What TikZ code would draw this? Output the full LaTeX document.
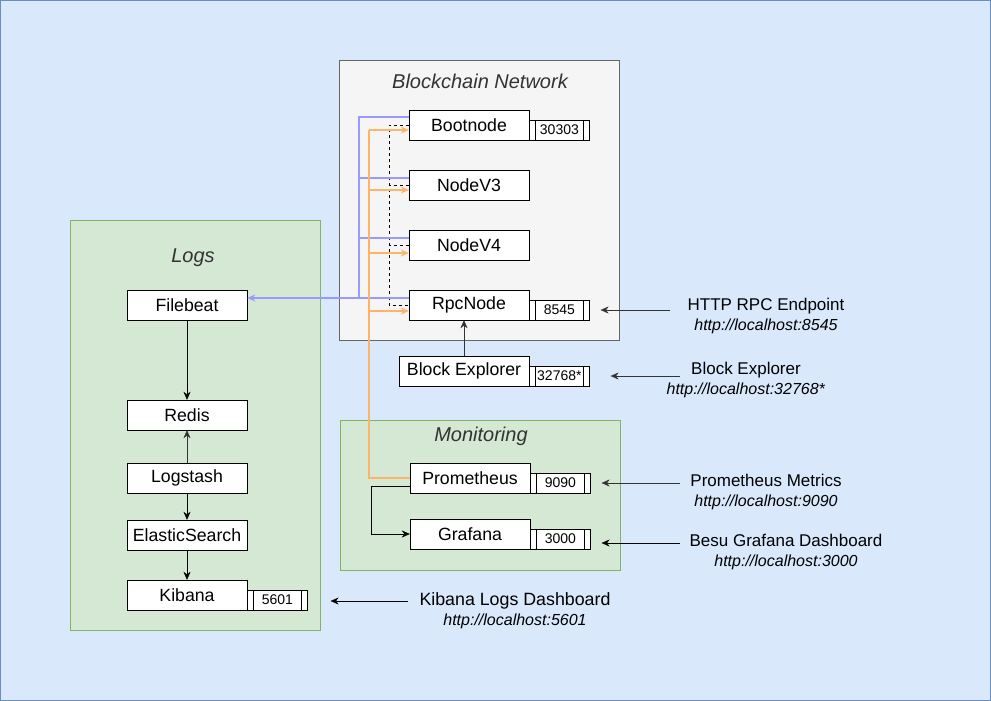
\documentclass[tikz,border=0pt]{standalone}
\usepackage{fontspec}
\setmainfont{Liberation Sans}
\usetikzlibrary{positioning,arrows.meta}

\definecolor{bgfill}{HTML}{DAE8FC}
\definecolor{bgline}{HTML}{6C8EBF}
\definecolor{netfill}{HTML}{F5F5F5}
\definecolor{netline}{HTML}{666666}
\definecolor{grpfill}{HTML}{D5E8D4}
\definecolor{grpline}{HTML}{82B366}
\definecolor{metrics}{HTML}{FFB366}
\definecolor{logline}{HTML}{9999FF}
\definecolor{txtgray}{HTML}{333333}

\begin{document}
\begin{tikzpicture}[x=1pt,y=-1pt,>={Stealth[length=8pt,width=7pt]},
	box/.style={draw,fill=white,minimum width=120pt,minimum height=30pt,inner sep=0pt,font=\fontsize{17.7}{20}\selectfont},
	port/.style={draw,fill=white,minimum width=60pt,minimum height=20pt,inner sep=0pt,font=\fontsize{14}{16}\selectfont,anchor=south west,
		path picture={\draw ([xshift=6pt]path picture bounding box.south west) -- ([xshift=6pt]path picture bounding box.north west);
			\draw ([xshift=-6pt]path picture bounding box.south east) -- ([xshift=-6pt]path picture bounding box.north east);}},
	title/.style={font=\fontsize{20}{24}\selectfont\itshape,text=txtgray},
	info/.style={align=center,font=\fontsize{17}{20}\selectfont},
	metricline/.style={draw=metrics,line width=1.3pt},
	logsline/.style={draw=logline,line width=1.3pt},
	peerline/.style={dash pattern=on 3pt off 3pt,line width=0.8pt},
	]
	\useasboundingbox (0,0) rectangle (991,701);
	\draw[fill=bgfill,draw=bgline] (0.5,0.5) rectangle (990.5,700.5);

	% groups
	\draw[fill=netfill,draw=netline] (339.5,60.5) rectangle (619.5,340.5);
	\draw[fill=grpfill,draw=grpline] (70.5,220.5) rectangle (320.5,630.5);
	\draw[fill=grpfill,draw=grpline] (340.5,420.5) rectangle (620.5,570.5);
	\node[title] (nettitle) at (480,81) {Blockchain Network};
	\node[title] (logstitle) at (193,258) {Logs};
	\node[title] (montitle) at (481,436) {Monitoring};

	% blockchain network
	\node[box] (boot) at (469,125) {Bootnode};
	\node[port] (bootport) at (boot.south east) {30303};
	\node[box] (v3) at (469,185) {NodeV3};
	\node[box] (v4) at (469,245) {NodeV4};
	\node[box] (rpc) at (469,305) {RpcNode};
	\node[port] (rpcport) at (rpc.south east) {8545};
	\node[box,minimum width=130pt] (explorer) at (464,371) {Block Explorer};
	\node[port] (explport) at (explorer.south east) {32768*};

	% monitoring
	\node[box] (prom) at (470,478) {Prometheus};
	\node[port] (promport) at (prom.south east) {9090};
	\node[box] (graf) at (470,534) {Grafana};
	\node[port] (grafport) at (graf.south east) {3000};

	% logs
	\node[box] (filebeat) at (187,305) {Filebeat};
	\node[box] (redis) at (187,415) {Redis};
	\node[box] (logstash) at (187,478) {Logstash};
	\node[box] (elastic) at (187,535) {ElasticSearch};
	\node[box] (kibana) at (187,595) {Kibana};
	\node[port] (kibport) at (kibana.south east) {5601};

	% peering
	\coordinate (peerbus) at (389,0);
	\draw[peerline] (boot.west) -- (boot.west -| peerbus) -- (rpc.west -| peerbus) -- (rpc.west);
	\draw[peerline] (v3.west) -- (v3.west -| peerbus);
	\draw[peerline] (v4.west) -- (v4.west -| peerbus);

	% log shipping
	\coordinate (logbus) at (359,0);
	\draw[logsline] ([yshift=8pt]boot.west) -- ([yshift=8pt]boot.west -| logbus) -- ([yshift=7pt]rpc.west -| logbus);
	\draw[logsline] ([yshift=7pt]v3.west) -- ([yshift=7pt]v3.west -| logbus);
	\draw[logsline] ([yshift=7pt]v4.west) -- ([yshift=7pt]v4.west -| logbus);
	\draw[logsline,->] ([yshift=7pt]rpc.west) -- ([yshift=7pt]rpc.west -| filebeat.east);

	% metrics scraping
	\coordinate (metricbus) at (369,0);
	\draw[metricline] (prom.west) -- (prom.west -| metricbus) -- ([yshift=-5pt]boot.west -| metricbus);
	\draw[metricline,->] ([yshift=-5pt]boot.west -| metricbus) -- ([yshift=-5pt]boot.west);
	\draw[metricline,->] ([yshift=-5pt]v3.west -| metricbus) -- ([yshift=-5pt]v3.west);
	\draw[metricline,->] ([yshift=-8pt]v4.west -| metricbus) -- ([yshift=-8pt]v4.west);
	\draw[metricline,->] ([yshift=-6pt]rpc.west -| metricbus) -- ([yshift=-6pt]rpc.west);

	\draw[->,draw=txtgray] (explorer.north) -- (explorer.north |- rpc.south);
	\draw[->] ([yshift=-8pt]prom.west) -| ([xshift=-39pt]graf.west) -- (graf.west);

	\draw[->] (filebeat) -- (redis);
	\draw[->,draw=txtgray] (logstash) -- (redis);
	\draw[->] (logstash) -- (elastic);
	\draw[->] (elastic) -- (kibana);

	% endpoints
	\node[info] (rpcinfo) at (766,316) {HTTP RPC Endpoint\\\textit{\fontsize{16}{20}\selectfont http://localhost:8545}};
	\node[info] (explinfo) at (746,380) {Block Explorer\\\textit{\fontsize{16}{20}\selectfont http://localhost:32768*}};
	\node[info] (prominfo) at (766,492) {Prometheus Metrics\\\textit{\fontsize{16}{20}\selectfont http://localhost:9090}};
	\node[info] (grafinfo) at (786,552) {Besu Grafana Dashboard\\\textit{\fontsize{16}{20}\selectfont http://localhost:3000}};
	\node[info,font=\fontsize{17.8}{20}\selectfont] (kibinfo) at (515,611) {Kibana Logs Dashboard\\\textit{\fontsize{16}{20}\selectfont http://localhost:5601}};

	\coordinate (rpcsrc) at (670,310);
	\coordinate (explsrc) at (680,376);
	\coordinate (promsrc) at (680,483);
	\coordinate (grafsrc) at (680,543);
	\coordinate (kibsrc) at (408,601);
	\draw[->,draw=txtgray,shorten >=11pt] (rpcsrc) -- (rpcsrc -| rpcport.east);
	\draw[->,draw=txtgray,shorten >=21pt] (explsrc) -- (explsrc -| explport.east);
	\draw[->,draw=txtgray,shorten >=11pt] (promsrc) -- (promsrc -| promport.east);
	\draw[->,shorten >=11pt] (grafsrc) -- (grafsrc -| grafport.east);
	\draw[->,shorten >=23pt] (kibsrc) -- (kibsrc -| kibport.east);
\end{tikzpicture}
\end{document}
